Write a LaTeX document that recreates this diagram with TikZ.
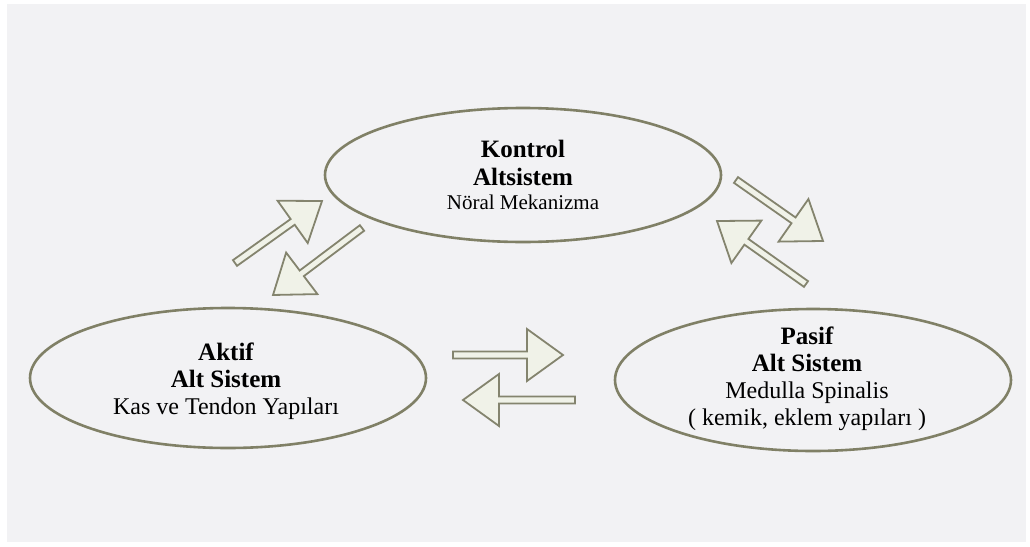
\documentclass[tikz,border=0pt]{standalone}
\usepackage{fontspec}
\setmainfont{Liberation Serif}
\usepackage{tikz}
\usetikzlibrary{shapes.geometric}

\definecolor{bggray}{RGB}{242,242,244}
\definecolor{ringgray}{RGB}{128,128,102}
\definecolor{arrowgray}{RGB}{132,132,110}
\definecolor{arrowfill}{RGB}{240,242,232}

\tikzset{
  sysring/.style={ellipse,draw=ringgray,line width=2.6pt,inner sep=0pt,
    minimum width=396pt},
  systext/.style={align=center,text=black},
  blockarrow/.style={draw=arrowgray,fill=arrowfill,line width=1.8pt,line join=miter}
}

% hollow block arrow from one named coordinate to another
\newcommand{\hollowarrow}[2]{%
  \pgfmathanglebetweenpoints{\pgfpointanchor{#1}{center}}{\pgfpointanchor{#2}{center}}%
  \let\harrang\pgfmathresult
  \pgfpointdiff{\pgfpointanchor{#1}{center}}{\pgfpointanchor{#2}{center}}%
  \pgfgetlastxy{\harrx}{\harry}%
  \pgfmathsetmacro{\harrlen}{veclen(\harrx,\harry)}%
  \draw[blockarrow,shift={(#1)},rotate=\harrang]
    (0,-3.5) -- (\harrlen-36,-3.5) -- (\harrlen-36,-26) -- (\harrlen,0)
    -- (\harrlen-36,26) -- (\harrlen-36,3.5) -- (0,3.5) -- cycle;
}

\begin{document}
\begin{tikzpicture}[x=1pt,y=-1pt]
  \useasboundingbox (0,0) rectangle (1030,546);
  \fill[bggray] (7,4) rectangle (1026,542);

  % the three subsystems
  \node[sysring,minimum height=134pt] (kontrol) at (523,175) {};
  \node[sysring,minimum height=140pt] (aktif) at (228,378) {};
  \node[sysring,minimum height=142pt] (pasif) at (813,380) {};

  \node[systext,font=\fontsize{21}{27}\selectfont] (kontroltxt) at (523,175)
    {{\fontsize{25}{28}\selectfont\bfseries Kontrol}\\[1pt]
     {\fontsize{25}{28}\selectfont\bfseries Altsistem}\\[-3pt]
     Nöral Mekanizma};
  \node[systext,font=\fontsize{24}{27}\selectfont] (aktiftxt) at (226,381)
    {{\fontsize{25}{27}\selectfont\bfseries Aktif}\\
     {\fontsize{25}{27}\selectfont\bfseries Alt Sistem}\\
     Kas ve Tendon Yapıları};
  \node[systext,font=\fontsize{24}{27}\selectfont] (pasiftxt) at (807,379)
    {{\fontsize{25}{27}\selectfont\bfseries Pasif}\\
     {\fontsize{25}{27}\selectfont\bfseries Alt Sistem}\\
     Medulla Spinalis\\
     ( kemik, eklem yapıları )};

  % arrow ends
  \coordinate (akTail) at (235,263);
  \coordinate (akTip) at (322,201);
  \coordinate (kaTail) at (362,228);
  \coordinate (kaTip) at (273,295);
  \coordinate (kpTail) at (736,180);
  \coordinate (kpTip) at (823,241);
  \coordinate (pkTail) at (806,284);
  \coordinate (pkTip) at (717,221);
  \coordinate (apTail) at (453,355);
  \coordinate (apTip) at (563,355);
  \coordinate (paTail) at (575,400);
  \coordinate (paTip) at (463,400);

  \hollowarrow{akTail}{akTip}
  \hollowarrow{kaTail}{kaTip}
  \hollowarrow{kpTail}{kpTip}
  \hollowarrow{pkTail}{pkTip}
  \hollowarrow{apTail}{apTip}
  \hollowarrow{paTail}{paTip}
\end{tikzpicture}
\end{document}
